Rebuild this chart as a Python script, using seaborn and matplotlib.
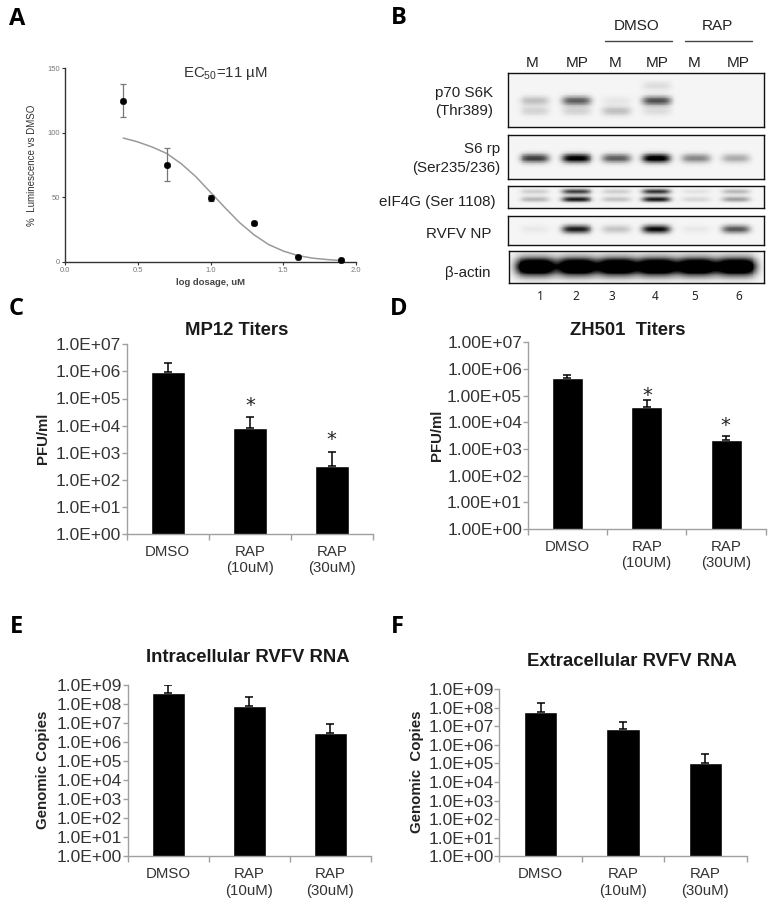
import numpy as np
import pandas as pd
import matplotlib
matplotlib.use("Agg")
import matplotlib.pyplot as plt
from matplotlib.ticker import FixedLocator, NullLocator, FixedFormatter
from matplotlib.lines import Line2D
import seaborn as sns

sns.set_theme(style="white")
plt.rcParams["font.family"] = ["Liberation Sans", "DejaVu Sans"]
plt.rcParams["mathtext.fontset"] = "custom"
plt.rcParams["mathtext.rm"] = "Liberation Sans"
plt.rcParams["mathtext.default"] = "rm"

W, H = 776, 910

# Panel A
dose_x = [0.4, 0.7, 1.0, 1.3, 1.6, 1.9]
dose_y = [125, 75.5, 49.5, 30, 4, 1.2]
dose_err = [12.5, 13, 2, 1, 0.5, 0.5]
curve_x = [0.4, 0.5, 0.6, 0.7, 0.8, 0.9, 1.0, 1.1, 1.2, 1.3, 1.4, 1.5, 1.6, 1.7, 1.8, 1.9]
curve_y = [96, 93, 89, 84, 76, 66, 54, 42, 30.5, 21, 13.5, 8.5, 5, 3, 1.9, 1.1]

# Panels C-F
labels_um = ["DMSO", "RAP\n(10uM)", "RAP\n(30uM)"]
labels_UM = ["DMSO", "RAP\n(10UM)", "RAP\n(30UM)"]
mp12_val = [9.5e5, 8e3, 3.3e2]
mp12_top = [2e6, 2e4, 1.1e3]
zh501_val = [4.5e5, 3.7e4, 2.2e3]
zh501_top = [6.2e5, 7e4, 3e3]
intra_val = [3.5e8, 8e7, 3e6]
intra_top = [1e9, 2.2e8, 8.3e6]
extra_val = [5.5e7, 7e6, 1.1e5]
extra_top = [1.7e8, 1.6e7, 3e5]

# Panel B: band strength per lane, one row per band
lane_pos = [0.106, 0.268, 0.425, 0.58, 0.735, 0.89]
p70_rows = [0.24, 0.515, 0.705]
p70_levels = [[0, 0, 0, 0.1, 0, 0],
              [0.22, 0.62, 0.06, 0.68, 0, 0],
              [0.14, 0.14, 0.22, 0.1, 0, 0]]
s6_rows = [0.53]
s6_levels = [[0.75, 1.05, 0.62, 1.1, 0.45, 0.3]]
eif_rows = [0.26, 0.6]
eif_levels = [[0.16, 0.75, 0.16, 0.8, 0.08, 0.25],
              [0.25, 0.9, 0.2, 0.9, 0.12, 0.35]]
np_rows = [0.45]
np_levels = [[0.05, 0.9, 0.2, 0.98, 0.05, 0.65]]
actin_rows = [0.5]
actin_levels = [[1.6, 1.6, 1.6, 1.6, 1.6, 1.6]]

top_lanes = ["M", "MP", "M", "MP", "M", "MP"]
top_lane_x = [531.7, 576.7, 615, 657, 694, 738]
lane_nums = ["1", "2", "3", "4", "5", "6"]
lane_num_x = [540, 575.7, 611.7, 655, 695, 738.3]

fig = plt.figure(figsize=(W / 100, H / 100), dpi=100)


def px_axes(l, t, r, b):
    return fig.add_axes([l / W, 1 - b / H, (r - l) / W, (b - t) / H])


def tx(x, y, s, **kw):
    kw.setdefault("ha", "center")
    kw.setdefault("va", "center")
    kw.setdefault("color", "#222222")
    fig.text(x / W, 1 - y / H, s, **kw)


# panel A
ax = px_axes(65, 68.3, 356, 262)
sns.lineplot(x=curve_x, y=curve_y, color="#9a9a9a", lw=1.1, ax=ax, errorbar=None)
ax.errorbar(dose_x, dose_y, yerr=dose_err, fmt="none", ecolor="#777777", elinewidth=0.9, capsize=2.5, capthick=0.9)
sns.scatterplot(x=dose_x, y=dose_y, color="black", s=22, edgecolor="black", zorder=5, ax=ax, clip_on=False)
ax.set_xlim(0, 2)
ax.set_ylim(0, 150)
ax.set_xticks([0, 0.5, 1, 1.5, 2], ["0.0", "0.5", "1.0", "1.5", "2.0"])
ax.set_yticks([0, 50, 100, 150], ["0", "50", "100", "150"])
ax.tick_params(axis="both", labelsize=5.5, labelcolor="#777777", length=2, width=0.8, color="#333333", pad=1.5,
               bottom=True, left=True)
sns.despine(ax=ax)
for s in ["left", "bottom"]:
    ax.spines[s].set_color("#333333")
    ax.spines[s].set_linewidth(1.0)
tx(210, 282.7, "log dosage, uM", fontsize=6.8, fontweight="bold", color="#444444")
tx(31.7, 165, "%  Luminescence vs DMSO", fontsize=7, rotation=90, color="#333333")
tx(225, 74, r"EC$_{50}$=11 µM", fontsize=10.8, color="#333333")


def titer_panel(box, labels, vals, tops, maxexp, ticklab, bar_w):
    ax = px_axes(*box)
    df = pd.DataFrame({"group": labels, "value": vals})
    sns.barplot(data=df, x="group", y="value", color="black", saturation=1, width=bar_w, errorbar=None, ax=ax)
    ax.set_yscale("log")
    low = [0, 0, 0]
    up = [t - v for t, v in zip(tops, vals)]
    ax.errorbar(range(3), vals, yerr=[low, up], fmt="none", ecolor="black", elinewidth=1.1, capsize=3, capthick=1.1)
    ax.set_xlim(-0.5, 2.5)
    ax.set_ylim(1, 10.0 ** maxexp)
    exps = list(range(maxexp + 1))
    ax.yaxis.set_major_locator(FixedLocator([10.0 ** e for e in exps]))
    ax.yaxis.set_major_formatter(FixedFormatter([ticklab % e for e in exps]))
    ax.yaxis.set_minor_locator(NullLocator())
    ax.set_xlabel("")
    ax.set_ylabel("")
    ax.set_xticks([0, 1, 2], labels)
    ax.set_xticks([-0.5, 0.5, 1.5, 2.5], minor=True)
    ax.tick_params(axis="y", which="major", labelsize=12.5, labelcolor="#333333", length=3.6, width=1,
                   color="#a0a0a0", pad=0.5, left=True)
    ax.tick_params(axis="x", which="major", labelsize=10.8, labelcolor="#333333", length=0, pad=8)
    ax.tick_params(axis="x", which="minor", length=4, width=1, color="#a0a0a0", bottom=True)
    sns.despine(ax=ax)
    for s in ["left", "bottom"]:
        ax.spines[s].set_color("#a0a0a0")
        ax.spines[s].set_linewidth(1.0)
    return ax


titer_panel((126.7, 344.3, 373, 534), labels_um, mp12_val, mp12_top, 7, "1.0E+%02d", 0.41)
titer_panel((527.7, 342.3, 765.7, 529), labels_UM, zh501_val, zh501_top, 7, "1.00E+%02d", 0.39)
titer_panel((127.7, 684.7, 370.7, 856.3), labels_um, intra_val, intra_top, 9, "1.0E+%02d", 0.41)
titer_panel((499.3, 689, 746.7, 856.3), labels_um, extra_val, extra_top, 9, "1.0E+%02d", 0.41)

tx(237, 330.7, "MP12 Titers", fontsize=13.3, fontweight="bold", color="#1a1a1a")
tx(627.5, 330.7, "ZH501  Titers", fontsize=13.3, fontweight="bold", color="#1a1a1a")
tx(248, 658, "Intracellular RVFV RNA", fontsize=13.3, fontweight="bold", color="#1a1a1a")
tx(631.7, 662, "Extracellular RVFV RNA", fontsize=13.3, fontweight="bold", color="#1a1a1a")

tx(43, 438, "PFU/ml", fontsize=10.8, fontweight="bold", rotation=90)
tx(436.7, 435, "PFU/ml", fontsize=10.8, fontweight="bold", rotation=90)
tx(43, 770, "Genomic Copies", fontsize=10.8, fontweight="bold", rotation=90)
tx(416.7, 771.7, "Genomic  Copies", fontsize=10.8, fontweight="bold", rotation=90)

# asterisks
for x, y in [(250, 405), (331.7, 439), (647, 396), (725.5, 426)]:
    tx(x, y, "*", fontsize=14, color="#222222", family="DejaVu Sans")


def blot(box, rows, levels, sy, wx=0.056, n=70, m=260):
    yy = (np.arange(n) + 0.5) / n
    xx = (np.arange(m) + 0.5) / m
    img = np.zeros((n, m))
    for r, row_levels in zip(rows, levels):
        for c, lev in zip(lane_pos, row_levels):
            img += lev * np.exp(-(((yy - r) / sy) ** 2))[:, None] * np.exp(-(((xx - c) / wx) ** 4))[None, :]
    img = 0.96 * (1 - np.clip(img, 0, 1))
    ax = px_axes(*box)
    sns.heatmap(img, cmap="gray", vmin=0, vmax=1, cbar=False, xticklabels=False, yticklabels=False, ax=ax)
    for s in ax.spines.values():
        s.set_visible(True)
        s.set_color("#111111")
        s.set_linewidth(1.0)


blot((507.7, 73, 764.3, 127), p70_rows, p70_levels, 0.085)
blot((507.7, 134.7, 764, 179.3), s6_rows, s6_levels, 0.1)
blot((507.7, 185.7, 764, 208.3), eif_rows, eif_levels, 0.12)
blot((507.7, 216.3, 764, 245), np_rows, np_levels, 0.14)
blot((508.7, 250.7, 764.3, 282.7), actin_rows, actin_levels, 0.27, wx=0.078)

for x, s in zip(top_lane_x, top_lanes):
    tx(x, 62.7, s, fontsize=11)
for x, s in zip(lane_num_x, lane_nums):
    tx(x, 296, s, fontsize=8.5, family="Noto Sans")
tx(637, 26, "DMSO", fontsize=11)
tx(717, 26, "RAP", fontsize=11)
fig.add_artist(Line2D([605 / W, 671.7 / W], [1 - 41 / H] * 2, color="#444444", lw=1))
fig.add_artist(Line2D([685 / W, 751.7 / W], [1 - 41 / H] * 2, color="#444444", lw=1))

tx(492.7, 93, "p70 S6K", fontsize=10.9, ha="right")
tx(492.7, 111, "(Thr389)", fontsize=10.9, ha="right")
tx(500, 149, "S6 rp", fontsize=10.9, ha="right")
tx(500, 167.7, "(Ser235/236)", fontsize=10.9, ha="right")
tx(495.7, 201.7, "eIF4G (Ser 1108)", fontsize=10.9, ha="right")
tx(492, 234, "RVFV NP", fontsize=10.9, ha="right")
tx(490, 273, "β-actin", fontsize=10.9, ha="right")

# panel letters
for x, y, s in [(17.5, 19, "A"), (398.5, 18, "B"), (16.5, 309, "C"), (399, 309, "D"), (16.5, 627, "E"), (397, 627, "F")]:
    tx(x, y, s, fontsize=17, fontweight="bold", family="Open Sans", color="black")

fig.savefig("out.png", dpi=100)
